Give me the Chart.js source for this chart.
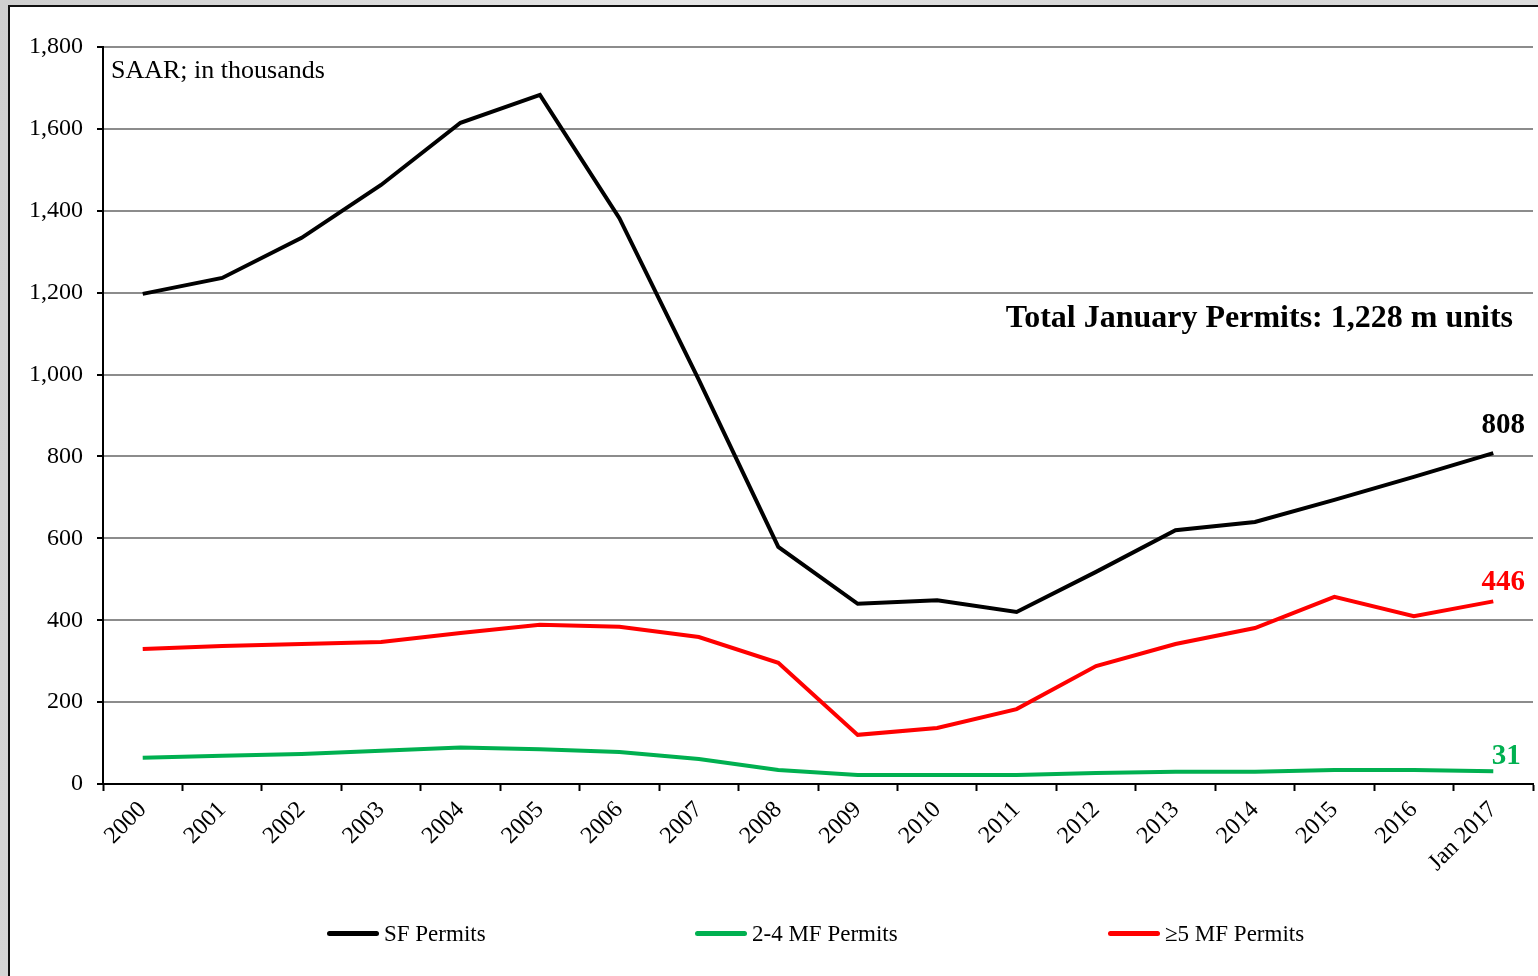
<!DOCTYPE html>
<html>
<head>
<meta charset="utf-8">
<script src="https://cdn.jsdelivr.net/npm/chart.js@4.4.1/dist/chart.umd.min.js"></script>
<style>
  html, body { margin: 0; padding: 0; }
  body {
    width: 1538px; height: 976px; overflow: hidden; position: relative;
    background: linear-gradient(100deg, #cfcfcf 0%, #e6e6e6 40%, #d4d4d4 70%, #e2e2e2 100%);
    font-family: "Liberation Serif", "Times New Roman", serif;
  }
  #frame {
    position: absolute; left: 8px; top: 5px; width: 1540px; height: 980px;
    background: #fff; border-left: 2px solid #111; border-top: 2px solid #111;
  }
  canvas { position: absolute; left: 0; top: 0; }
  .leg { position: absolute; top: 921px; font-size: 23px; color: #000; white-space: nowrap; }
  .leg i { display: inline-block; width: 52px; height: 5px; border-radius: 3px; vertical-align: middle; margin-right: 5px; position: relative; top: -2px; }
</style>
</head>
<body>
<div id="frame"></div>
<canvas id="chart" width="1538" height="976"></canvas>
<div id="legend"></div>
<script>
// permits, SAAR in thousands
const years = ['2000', '2001', '2002', '2003', '2004', '2005', '2006', '2007', '2008',
  '2009', '2010', '2011', '2012', '2013', '2014', '2015', '2016', 'Jan 2017'];
const sfPermits = [1197, 1236, 1334, 1463, 1615, 1683, 1382, 987, 579, 440, 449, 420, 518, 620, 640, 694, 750, 808];
const mf24Permits = [64, 69, 73, 81, 89, 85, 78, 61, 34, 22, 22, 22, 27, 30, 30, 34, 34, 31];
const mf5Permits = [330, 337, 342, 347, 369, 389, 384, 359, 296, 120, 137, 183, 288, 342, 381, 457, 410, 446];
const yTicks = [0, 200, 400, 600, 800, 1000, 1200, 1400, 1600, 1800];

const serif = '"Liberation Serif", "Times New Roman", serif';

const series = [
  { label: 'SF Permits', data: sfPermits, color: '#000000', endLabel: [10, -28] },
  { label: '2-4 MF Permits', data: mf24Permits, color: '#00B050', endLabel: [13, -15] },
  { label: '\u22655 MF Permits', data: mf5Permits, color: '#FF0000', endLabel: [10, -19] },
];

// text inside the plot + end labels
const notes = {
  id: 'notes',
  afterDatasetsDraw(chart) {
    const ctx = chart.ctx;
    const area = chart.chartArea;
    ctx.save();
    ctx.fillStyle = '#000';
    ctx.font = '26px ' + serif;
    ctx.textAlign = 'left';
    ctx.textBaseline = 'alphabetic';
    ctx.fillText('SAAR; in thousands', area.left + 8, area.top + 31);

    ctx.font = 'bold 32px ' + serif;
    ctx.textAlign = 'right';
    ctx.fillText('Total January Permits: 1,228 m units', area.right - 20, 327);

    ctx.font = 'bold 29px ' + serif;
    ctx.textAlign = 'center';
    ctx.textBaseline = 'middle';
    chart.data.datasets.forEach((ds, i) => {
      const meta = chart.getDatasetMeta(i);
      const last = meta.data[meta.data.length - 1];
      const off = series[i].endLabel;
      ctx.fillStyle = ds.borderColor;
      ctx.fillText(String(ds.data[ds.data.length - 1]), last.x + off[0], last.y + off[1]);
    });
    ctx.restore();
  }
};

const ctx = document.getElementById('chart').getContext('2d');
new Chart(ctx, {
  type: 'line',
  data: {
    labels: years,
    datasets: series.map(s => ({
      label: s.label,
      data: s.data,
      borderColor: s.color,
      backgroundColor: s.color,
      borderWidth: 4,
      pointRadius: 0,
      tension: 0,
      fill: false,
    })),
  },
  options: {
    responsive: false,
    animation: false,
    layout: { padding: { left: 8, right: 5, top: 47, bottom: 42 } },
    plugins: { legend: { display: false }, tooltip: { enabled: false } },
    scales: {
      x: {
        offset: true,
        grid: { display: true, drawOnChartArea: false, drawTicks: true, tickLength: 7, tickColor: '#000', tickWidth: 2, offset: true },
        border: { display: true, color: '#000', width: 2 },
        ticks: {
          color: '#000', font: { family: serif, size: 24 },
          autoSkip: false, maxRotation: 45, minRotation: 45, padding: 5,
        },
        afterFit(scale) { scale.height = 150; },
      },
      y: {
        min: 0, max: 1800,
        afterBuildTicks(scale) { scale.ticks = yTicks.map(v => ({ value: v })); },
        grid: { color: '#8c8c8c', lineWidth: 2, drawTicks: true, tickLength: 6, tickColor: '#000', tickWidth: 2 },
        border: { display: true, color: '#000', width: 2 },
        ticks: {
          color: '#000', font: { family: serif, size: 24 }, padding: 14,
          callback: v => v.toLocaleString('en-US'),
        },
        afterFit(scale) { scale.width = 95; },
      },
    },
  },
  plugins: [notes],
});

// legend spread across the bottom like the original
const legendX = [327, 695, 1108];
const legend = document.getElementById('legend');
series.forEach((s, i) => {
  const item = document.createElement('div');
  item.className = 'leg';
  item.style.left = legendX[i] + 'px';
  item.innerHTML = '<i style="background:' + s.color + '"></i>' + s.label;
  legend.appendChild(item);
});
</script>
</body>
</html>
